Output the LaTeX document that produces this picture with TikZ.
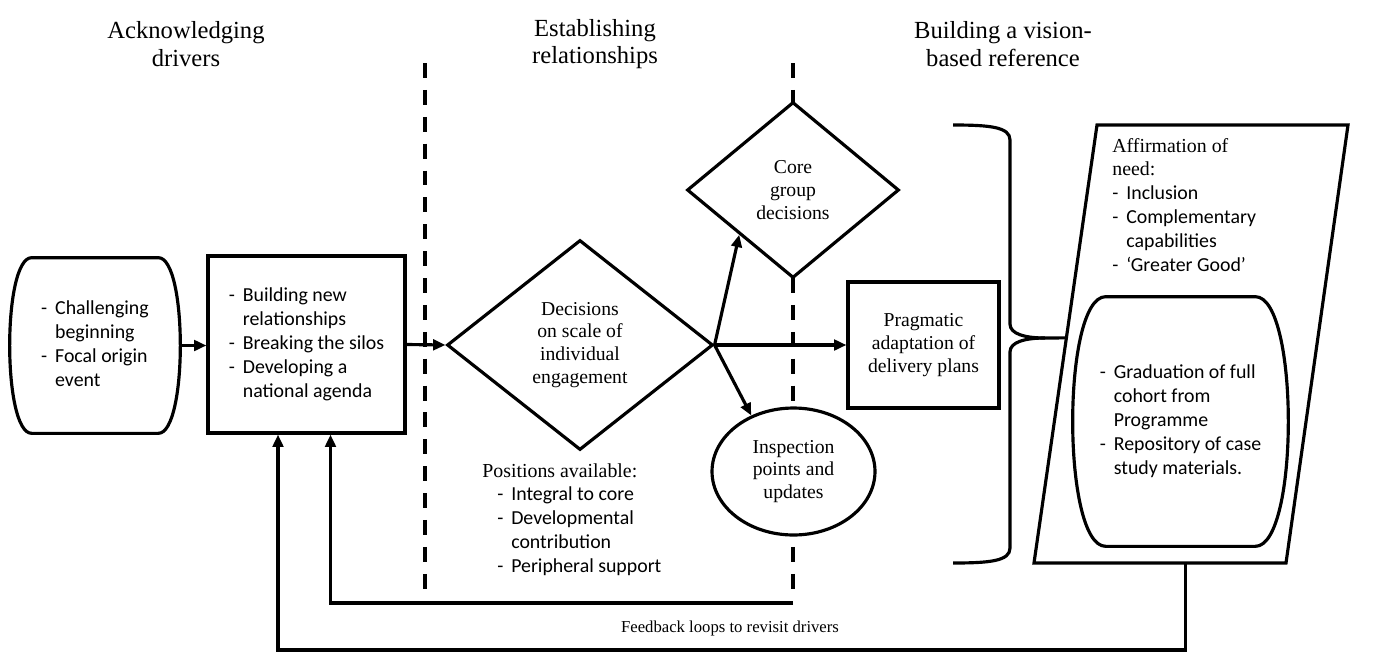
\documentclass[tikz,border=0pt]{standalone}
\usepackage{fontspec}
\setmainfont{Liberation Serif}
\newfontfamily\calfont{Carlito}
\usetikzlibrary{shapes.geometric,arrows.meta,calc}

% bullet lists with a hanging dash
\newcommand{\dashlist}[1]{{\calfont\fontsize{11.3}{13.6}\selectfont
  \begin{tabular}{@{}l@{\hspace{4.5pt}}l@{}}#1\end{tabular}}}
% barrel outline round a node: #1 node name, #2 inset of the flat top
\newcommand{\barrel}[2]{%
  \draw[shapeline] ([xshift=#2]#1.north west) -- ([xshift=-#2]#1.north east)
    .. controls ([xshift=#2/3]#1.north east) and ([xshift=#2/3]#1.south east) .. ([xshift=-#2]#1.south east)
    -- ([xshift=#2]#1.south west)
    .. controls ([xshift=-#2/3]#1.south west) and ([xshift=-#2/3]#1.north west) .. cycle;}

\begin{document}
\begin{tikzpicture}
  [x=0.02cm,y=-0.02cm,
  every node/.style = {font=\fontsize{11.2}{13}\selectfont, align=center},
  shapeline/.style  = {line width=1.8pt},
  box/.style        = {draw, shapeline, fill=white, rectangle, inner sep=2pt},
  decide/.style     = {draw, shapeline, fill=white, diamond, inner sep=1pt},
  checkpt/.style    = {draw, shapeline, fill=white, ellipse, inner sep=1pt},
  flow/.style       = {shapeline, -{Triangle[length=7pt,width=6pt]}},
  divider/.style    = {line width=2.2pt, dash pattern=on 8.5pt off 6.8pt},
  heading/.style    = {font=\fontsize{14}{15.5}\selectfont}]
  \useasboundingbox (0,0) rectangle (1373,653);

  % column headings
  \node[heading] (hdrive) at (186,44) {Acknowledging\\drivers};
  \node[heading] (hrel)   at (595,44) {Establishing\\relationships};
  \node[heading] (hvis)   at (1003,44) {Building a vision-\\based reference};

  % phase dividers
  \coordinate (d1top) at (425,63);
  \coordinate (d1bot) at (425,590);
  \coordinate (d2top) at (793,63);
  \coordinate (d2bot) at (793,590);
  \draw[divider] (d1top) -- (d1bot);
  \draw[divider] (d2top) -- (d2bot);

  % drivers
  \node[minimum width=3.4cm, minimum height=3.5cm, inner sep=0pt] (orig) at (95,345.5)
    {\dashlist{- & Challenging\\ & beginning\\ - & Focal origin\\ & event}};
  \barrel{orig}{0.44cm}
  \node[box, minimum width=3.94cm, minimum height=3.54cm] (drv) at (306.5,344.5)
    {\dashlist{- & Building new\\ & relationships\\ - & Breaking the silos\\ - & Developing a\\ & national agenda}};

  % relationships
  \node[decide, minimum width=5.32cm, minimum height=4.2cm] (engage) at (580,345)
    {Decisions\\on scale of\\individual\\engagement};
  \node[anchor=north west, inner sep=0pt] (posn) at (482,460)
    {\dashlist{\multicolumn{2}{@{}l}{\rmfamily Positions available:}\\
      \hspace{8.5pt}- & Integral to core\\ \hspace{8.5pt}- & Developmental\\ & contribution\\
      \hspace{8.5pt}- & Peripheral support}};
  \node[decide, minimum width=4.24cm, minimum height=3.52cm] (core) at (793,190)
    {Core\\group\\decisions};
  \node[box, minimum width=3.02cm, minimum height=2.52cm] (prag) at (923.5,345)
    {Pragmatic\\adaptation of\\delivery plans};
  \node[checkpt, minimum width=3.26cm, minimum height=2.54cm] (insp) at (793.5,471.5)
    {Inspection\\points and\\updates};

  % vision-based reference
  \coordinate (pBL) at (1034,563);
  \coordinate (pTL) at (1097,125);
  \coordinate (pTR) at (1348,125);
  \coordinate (pBR) at (1286,563);
  \draw[shapeline] (pBL) -- (pTL) -- (pTR) -- (pBR) -- cycle;
  \node[anchor=north west, inner sep=0pt] (affirm) at (1112,135)
    {\dashlist{\multicolumn{2}{@{}l}{\rmfamily Affirmation of}\\ \multicolumn{2}{@{}l}{\rmfamily need:}\\
      - & Inclusion\\ - & Complementary\\ & capabilities\\ - & ‘Greater Good’}};
  \node[minimum width=4.3cm, minimum height=4.98cm, inner sep=0pt] (grad) at (1180.5,421.5)
    {\dashlist{- & Graduation of full\\ & cohort from\\ & Programme\\ - & Repository of case\\ & study materials.}};
  \barrel{grad}{0.66cm}

  % brace
  \coordinate (btip) at ($(pBL)!0.514!(pTL)$);
  \draw[shapeline] (953,125) .. controls (990,125) and (1010,127) .. (1010,140) -- (1010,324)
    .. controls (1010,334) and (1025,338) .. (1045,338) -- (btip);
  \draw[shapeline] (1045,338) .. controls (1025,338) and (1010,342) .. (1010,352) -- (1010,548)
    .. controls (1010,561) and (990,563) .. (953,563);

  % flow
  \draw[flow] (orig.east) -- (orig.east -| drv.west);
  \draw[flow] (drv.east) -- (engage.west);
  \draw[flow] (engage.east) -- (core.south west);
  \draw[flow] (engage.east) -- (prag.west);
  \draw[flow] (engage.east) -- (insp.127);

  % feedback loops
  \coordinate (fbin) at (793,603);
  \draw[flow] (fbin) -| ($(drv.south)+(24,0)$);
  \coordinate (fbout) at ($(pBL)!0.6!(pBR)$);
  \draw[flow] (fbout) -- ++(0,87) -| ($(drv.south)+(-28.5,0)$);
  \node[font=\fontsize{9.5}{11}\selectfont] (fbtxt) at (730,628) {Feedback loops to revisit drivers};
\end{tikzpicture}
\end{document}
